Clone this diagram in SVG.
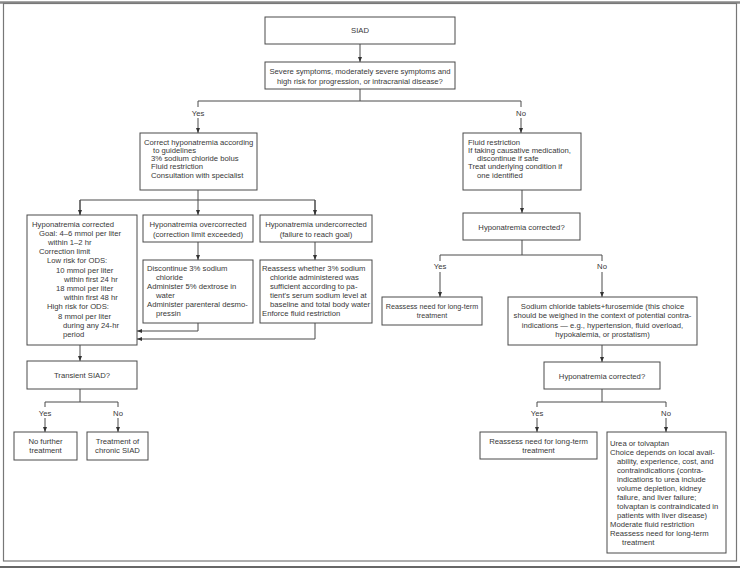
<svg xmlns="http://www.w3.org/2000/svg" width="740" height="572" viewBox="0 0 740 572">
<defs>
<style>
.box{fill:#fff;stroke:#4a4a4a;stroke-width:1}
.t{font-family:"Liberation Sans",Arial,sans-serif;font-size:7.7px;fill:#383838}
.s{font-size:7.2px}
.c{text-anchor:middle}
.ln{stroke:#4a4a4a;stroke-width:1;fill:none}
.frame{fill:none;stroke:#777;stroke-width:1.2}
</style>
<marker id="ah" markerUnits="userSpaceOnUse" markerWidth="5" markerHeight="4" refX="5" refY="2" orient="auto">
<path d="M0,0 L5,2 L0,4 z" fill="#333"/>
</marker>
</defs>
<rect width="740" height="572" fill="#fff"/>
<g id="frame">
<line x1="0" y1="2.5" x2="740" y2="2.5" stroke="#888" stroke-width="2.5"/>
<rect class="frame" x="3.5" y="3.5" width="733" height="557.5"/>
<line x1="0" y1="567" x2="740" y2="567" stroke="#666" stroke-width="2"/>
</g>

<g id="connectors">
<line class="ln" x1="360" y1="44" x2="360" y2="62" marker-end="url(#ah)"/>
<polyline class="ln" points="360,89 360,101"/>
<polyline class="ln" points="198,107 198,101 521,101 521,107"/>
<line class="ln" x1="198" y1="118" x2="198" y2="133" marker-end="url(#ah)"/>
<line class="ln" x1="521" y1="118" x2="521" y2="133" marker-end="url(#ah)"/>
<polyline class="ln" points="198,190 198,200"/>
<polyline class="ln" points="80,215 80,200 315,200 315,215"/>
<line class="ln" x1="80" y1="200" x2="80" y2="215" marker-end="url(#ah)"/>
<line class="ln" x1="198" y1="200" x2="198" y2="215" marker-end="url(#ah)"/>
<line class="ln" x1="315" y1="200" x2="315" y2="215" marker-end="url(#ah)"/>
<line class="ln" x1="198" y1="242" x2="198" y2="260" marker-end="url(#ah)"/>
<line class="ln" x1="315" y1="242" x2="315" y2="260" marker-end="url(#ah)"/>
<polyline class="ln" points="198,323 198,331 137,331" marker-end="url(#ah)"/>
<polyline class="ln" points="315,323 315,339 137,339" marker-end="url(#ah)"/>
<line class="ln" x1="80" y1="345" x2="80" y2="361" marker-end="url(#ah)"/>
<polyline class="ln" points="80,389 80,402"/>
<polyline class="ln" points="45,407 45,402 118,402 118,407"/>
<line class="ln" x1="45" y1="418" x2="45" y2="432" marker-end="url(#ah)"/>
<line class="ln" x1="118" y1="418" x2="118" y2="432" marker-end="url(#ah)"/>
<line class="ln" x1="522" y1="190" x2="522" y2="213" marker-end="url(#ah)"/>
<polyline class="ln" points="522,240 522,255"/>
<polyline class="ln" points="440,261 440,255 602,255 602,261"/>
<line class="ln" x1="440" y1="272" x2="440" y2="297" marker-end="url(#ah)"/>
<line class="ln" x1="602" y1="272" x2="602" y2="297" marker-end="url(#ah)"/>
<line class="ln" x1="602" y1="345" x2="602" y2="362" marker-end="url(#ah)"/>
<polyline class="ln" points="602,389 602,402"/>
<polyline class="ln" points="537,407 537,402 666,402 666,407"/>
<line class="ln" x1="537" y1="418" x2="537" y2="432" marker-end="url(#ah)"/>
<line class="ln" x1="666" y1="418" x2="666" y2="432" marker-end="url(#ah)"/>
<text class="t c" x="198" y="115.5">Yes</text>
<text class="t c" x="521" y="115.5">No</text>
<text class="t c" x="45" y="415.5">Yes</text>
<text class="t c" x="118" y="415.5">No</text>
<text class="t c" x="440" y="268.5">Yes</text>
<text class="t c" x="602" y="268.5">No</text>
<text class="t c" x="537" y="415.5">Yes</text>
<text class="t c" x="666" y="415.5">No</text>
</g>

<g id="siad">
<rect class="box" x="265" y="17" width="190" height="27"/>
<text class="t c" x="360" y="33">SIAD</text>
</g>
<g id="q1">
<rect class="box" x="265" y="62" width="190" height="27"/>
<text class="t c" x="360" y="73.5">Severe symptoms, moderately severe symptoms and</text>
<text class="t c" x="360" y="83.5">high risk for progression, or intracranial disease?</text>
</g>
<g id="correct">
<rect class="box" x="140" y="133" width="117" height="57"/>
<text class="t" x="144" y="144.5">Correct hyponatremia according</text>
<text class="t" x="153" y="152.8">to guidelines</text>
<text class="t" x="151" y="161.1">3% sodium chloride bolus</text>
<text class="t" x="151" y="169.4">Fluid restriction</text>
<text class="t" x="151" y="177.7">Consultation with specialist</text>
</g>
<g id="fluid">
<rect class="box" x="463" y="133" width="118" height="57"/>
<text class="t" x="468" y="144.5">Fluid restriction</text>
<text class="t" x="468" y="152.8">If taking causative medication,</text>
<text class="t" x="477" y="161.1">discontinue if safe</text>
<text class="t" x="468" y="169.4">Treat underlying condition if</text>
<text class="t" x="477" y="177.7">one identified</text>
</g>
<g id="corrected">
<rect class="box" x="27" y="215" width="110" height="130"/>
<text class="t" x="32" y="226.6">Hyponatremia corrected</text>
<text class="t" x="39" y="235.8">Goal: 4–6 mmol per liter</text>
<text class="t" x="48" y="245">within 1–2 hr</text>
<text class="t" x="39" y="254.2">Correction limit</text>
<text class="t" x="47" y="263.4">Low risk for ODS:</text>
<text class="t" x="56" y="272.6">10 mmol per liter</text>
<text class="t" x="64" y="281.8">within first 24 hr</text>
<text class="t" x="56" y="291">18 mmol per liter</text>
<text class="t" x="64" y="300.2">within first 48 hr</text>
<text class="t" x="47" y="309.4">High risk for ODS:</text>
<text class="t" x="58" y="318.6">8 mmol per liter</text>
<text class="t" x="63" y="327.8">during any 24-hr</text>
<text class="t" x="63" y="337">period</text>
</g>
<g id="over">
<rect class="box" x="143" y="215" width="110" height="27"/>
<text class="t c" x="198" y="226.5">Hyponatremia overcorrected</text>
<text class="t c" x="198" y="236.5">(correction limit exceeded)</text>
</g>
<g id="under">
<rect class="box" x="260" y="215" width="112" height="27"/>
<text class="t c" x="316" y="226.5">Hyponatremia undercorrected</text>
<text class="t c" x="316" y="236.5">(failure to reach goal)</text>
</g>
<g id="overAction">
<rect class="box" x="143" y="260" width="110" height="63"/>
<text class="t" x="147" y="271">Discontinue 3% sodium</text>
<text class="t" x="156" y="280">chloride</text>
<text class="t" x="147" y="289">Administer 5% dextrose in</text>
<text class="t" x="156" y="298">water</text>
<text class="t" x="147" y="307">Administer parenteral desmo-</text>
<text class="t" x="156" y="316">pressin</text>
</g>
<g id="underAction">
<rect class="box" x="260" y="260" width="112" height="63"/>
<text class="t" x="262" y="271">Reassess whether 3% sodium</text>
<text class="t" x="270" y="280">chloride administered was</text>
<text class="t" x="270" y="289">sufficient according to pa-</text>
<text class="t" x="270" y="298">tient's serum sodium level at</text>
<text class="t" x="270" y="307">baseline and total body water</text>
<text class="t" x="262" y="316">Enforce fluid restriction</text>
</g>
<g id="transient">
<rect class="box" x="27" y="361" width="110" height="28"/>
<text class="t c" x="82" y="377.5">Transient SIAD?</text>
</g>
<g id="noFurther">
<rect class="box" x="14" y="432" width="63" height="28"/>
<text class="t c" x="45.5" y="443.5">No further</text>
<text class="t c" x="45.5" y="453">treatment</text>
</g>
<g id="chronic">
<rect class="box" x="87" y="432" width="61" height="28"/>
<text class="t c" x="117.5" y="443.5">Treatment of</text>
<text class="t c" x="117.5" y="453">chronic SIAD</text>
</g>
<g id="hc1">
<rect class="box" x="463" y="213" width="117" height="27"/>
<text class="t c" x="521.5" y="229.5">Hyponatremia corrected?</text>
</g>
<g id="reassess1">
<rect class="box" x="382" y="297" width="100" height="28"/>
<text class="t s c" x="432" y="308.5">Reassess need for long-term</text>
<text class="t s c" x="432" y="318">treatment</text>
</g>
<g id="nacl">
<rect class="box" x="508" y="297" width="189" height="48"/>
<text class="t c" x="602.5" y="308.6">Sodium chloride tablets+furosemide (this choice</text>
<text class="t c" x="602.5" y="318.1">should be weighed in the context of potential contra-</text>
<text class="t c" x="602.5" y="327.6">indications — e.g., hypertension, fluid overload,</text>
<text class="t c" x="602.5" y="337.1">hypokalemia, or prostatism)</text>
</g>
<g id="hc2">
<rect class="box" x="544" y="362" width="116" height="27"/>
<text class="t c" x="602" y="378.5">Hyponatremia corrected?</text>
</g>
<g id="reassess2">
<rect class="box" x="480" y="432" width="117" height="27"/>
<text class="t c" x="538.5" y="443.5">Reassess need for long-term</text>
<text class="t c" x="538.5" y="453">treatment</text>
</g>
<g id="urea">
<rect class="box" x="607" y="432" width="119" height="121"/>
<text class="t" x="610" y="445.6">Urea or tolvaptan</text>
<text class="t" x="610" y="454.6">Choice depends on local avail-</text>
<text class="t" x="617" y="463.6">ability, experience, cost, and</text>
<text class="t" x="617" y="472.6">contraindications (contra-</text>
<text class="t" x="617" y="481.6">indications to urea include</text>
<text class="t" x="617" y="490.6">volume depletion, kidney</text>
<text class="t" x="617" y="499.6">failure, and liver failure;</text>
<text class="t" x="617" y="508.6">tolvaptan is contraindicated in</text>
<text class="t" x="617" y="517.6">patients with liver disease)</text>
<text class="t" x="610" y="526.6">Moderate fluid restriction</text>
<text class="t" x="610" y="535.6">Reassess need for long-term</text>
<text class="t" x="622" y="544.6">treatment</text>
</g>
</svg>
